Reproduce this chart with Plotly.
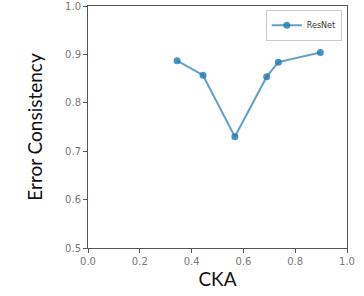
import plotly.graph_objects as go

cka = [0.344, 0.444, 0.567, 0.690, 0.735, 0.897]
error_consistency = [0.887, 0.857, 0.730, 0.854, 0.884, 0.904]
series_name = "ResNet"
x_ticks = [0.0, 0.2, 0.4, 0.6, 0.8, 1.0]
y_ticks = [0.5, 0.6, 0.7, 0.8, 0.9, 1.0]

fig = go.Figure()
fig.add_trace(go.Scatter(
    x=cka, y=error_consistency, mode="lines+markers", name=series_name,
    line=dict(color="rgba(31,119,180,0.7)", width=2),
    marker=dict(color="rgba(31,119,180,0.8)", size=7),
))

axis_common = dict(
    showline=True, linecolor="#555", linewidth=1, mirror=True, automargin=False,
    showgrid=False, zeroline=False, ticks="outside", ticklen=4, tickcolor="#555",
    tickfont=dict(family="DejaVu Sans", size=10, color="#777"),
    title_font=dict(family="Lato", size=19, color="#111"),
)
fig.update_xaxes(range=[0, 1], tickvals=x_ticks, ticktext=[f"{v:.1f}" for v in x_ticks],
                 title_text="CKA", title_standoff=5, **axis_common)
fig.update_yaxes(range=[0.5, 1.0], tickvals=y_ticks, ticktext=[f"{v:.1f}" for v in y_ticks],
                 title_text="Error Consistency", title_standoff=17, **axis_common)

fig.update_layout(
    width=364, height=296,
    margin=dict(l=88, r=17, t=6, b=48),
    paper_bgcolor="white", plot_bgcolor="white",
    showlegend=True,
    legend=dict(x=0.98, y=0.985, xanchor="right", yanchor="top",
                bordercolor="#ccc", borderwidth=1, bgcolor="white",
                font=dict(family="DejaVu Sans", size=8, color="#333"),
                itemwidth=30),
)
fig.write_html("out.html", config={"displayModeBar": False},
               post_script="document.body.style.margin='0';document.body.style.padding='0';")
